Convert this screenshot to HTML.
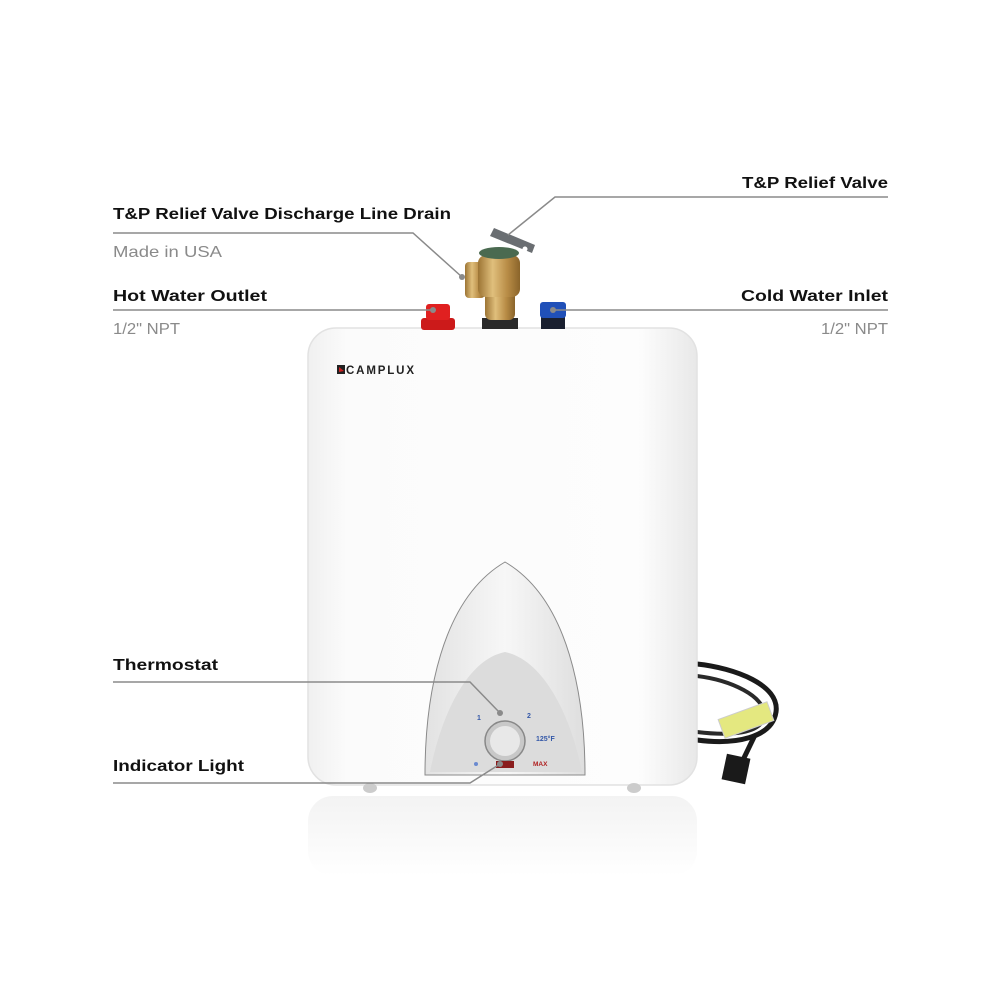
<!DOCTYPE html>
<html><head><style>
html,body{margin:0;padding:0;background:#fff;}
svg{display:block}
text{font-family:"Liberation Sans",sans-serif;}
</style></head><body>
<svg width="1000" height="1000" viewBox="0 0 1000 1000" xmlns="http://www.w3.org/2000/svg">
<defs>
<linearGradient id="tank" x1="0" y1="0" x2="1" y2="0">
<stop offset="0" stop-color="#f0f0f0"/><stop offset="0.1" stop-color="#fbfbfb"/><stop offset="0.85" stop-color="#fdfdfd"/><stop offset="1" stop-color="#e8e8e8"/></linearGradient>
<linearGradient id="brass" x1="0" y1="0" x2="1" y2="0">
<stop offset="0" stop-color="#9c7434"/><stop offset="0.35" stop-color="#e0bf7c"/><stop offset="0.7" stop-color="#b88c46"/><stop offset="1" stop-color="#8a642a"/></linearGradient>
<linearGradient id="panel" x1="0" y1="0" x2="1" y2="0">
<stop offset="0" stop-color="#e2e2e2"/><stop offset="0.5" stop-color="#f7f7f7"/><stop offset="1" stop-color="#dedede"/></linearGradient>
<linearGradient id="refl" x1="0" y1="0" x2="0" y2="1">
<stop offset="0" stop-color="#f3f3f3"/><stop offset="1" stop-color="#ffffff"/></linearGradient>
</defs>
<rect x="308" y="796" width="389" height="80" rx="25" fill="url(#refl)"/>
<!-- cord -->
<path d="M697 664 C735 668 780 685 776 712 C772 738 735 745 697 740" fill="none" stroke="#1a1a1a" stroke-width="5"/>
<path d="M697 676 C730 680 766 696 764 716 C762 734 730 736 697 732" fill="none" stroke="#2a2a2a" stroke-width="4"/>
<path d="M755 735 L742 762" stroke="#1a1a1a" stroke-width="5"/>
<rect x="724" y="756" width="24" height="26" fill="#1a1a1a" transform="rotate(12 736 769)"/>
<rect x="720" y="710" width="52" height="20" fill="#e4e880" stroke="#ccc" transform="rotate(-20 746 720)"/>
<!-- tank -->
<rect x="308" y="328" width="389" height="457" rx="28" fill="url(#tank)" stroke="#e2e2e2" stroke-width="1.5"/>
<ellipse cx="370" cy="788" rx="7" ry="5" fill="#ccc"/>
<ellipse cx="634" cy="788" rx="7" ry="5" fill="#ccc"/>
<rect x="337" y="365" width="8" height="9" fill="#222"/>
<path d="M339 367 L344 371 L339 372Z" fill="#c22"/>
<text x="346" y="374" font-size="11.5" font-weight="bold" fill="#222" textLength="68">CAMPLUX</text>
<!-- panel -->
<path d="M425 775 C425 700 440 600 505 562 C570 600 585 700 585 775 Z" fill="url(#panel)" stroke="#8a8a8a" stroke-width="1"/>
<path d="M430 772 C440 720 465 660 505 652 C545 660 572 720 582 772 Z" fill="#dcdcdc"/>
<text x="477" y="720" font-size="7" font-weight="bold" fill="#3458a8">1</text>
<text x="527" y="718" font-size="7" font-weight="bold" fill="#3458a8">2</text>
<text x="536" y="741" font-size="7" font-weight="bold" fill="#3458a8">125°F</text>
<text x="533" y="766" font-size="6.5" font-weight="bold" fill="#b02020">MAX</text>
<circle cx="476" cy="764" r="2" fill="#6a8ad0"/>
<circle cx="505" cy="741" r="20" fill="#c8c8c8" stroke="#888" stroke-width="1.5"/>
<circle cx="505" cy="741" r="15" fill="#e8e8e8"/>
<rect x="496" y="761" width="18" height="7" fill="#8a1c1c"/>
<!-- knobs -->
<rect x="421" y="318" width="34" height="12" rx="3" fill="#cc1a1a"/>
<rect x="426" y="304" width="24" height="16" rx="3" fill="#e02020"/>
<rect x="541" y="316" width="24" height="13" fill="#1a2030"/>
<rect x="540" y="302" width="26" height="16" rx="3" fill="#2050b8"/>
<!-- valve -->
<rect x="482" y="318" width="36" height="11" fill="#2a2a2a"/>
<rect x="485" y="290" width="30" height="30" rx="6" fill="url(#brass)"/>
<rect x="465" y="262" width="20" height="36" rx="4" fill="url(#brass)"/>
<rect x="478" y="255" width="42" height="42" rx="8" fill="url(#brass)"/>
<ellipse cx="499" cy="253" rx="20" ry="6" fill="#4a6a50"/>
<path d="M490 236 L494 228 L535 245 L532 253 Z" fill="#6a6e72"/>
<circle cx="525" cy="249" r="2.5" fill="#fff"/>
<g fill="none" stroke="#8a8a8a" stroke-width="1.5">
<path d="M113 233 H413 L462 277"/>
<path d="M888 197 H555 L508 235"/>
<path d="M113 310 H433"/>
<path d="M553 310 H888"/>
<path d="M113 682 H470 L500 713"/>
<path d="M113 783 H470 L500 764"/>
</g>
<g fill="#8a8a8a"><circle cx="462" cy="277" r="3"/><circle cx="433" cy="310" r="3"/><circle cx="553" cy="310" r="3"/><circle cx="500" cy="713" r="3"/><circle cx="500" cy="764" r="3"/></g>
<g font-size="16" font-weight="bold" fill="#111">
<text x="113" y="219" textLength="338" lengthAdjust="spacingAndGlyphs">T&amp;P Relief Valve Discharge Line Drain</text>
<text x="742" y="188" textLength="146" lengthAdjust="spacingAndGlyphs">T&amp;P Relief Valve</text>
<text x="113" y="301" textLength="154" lengthAdjust="spacingAndGlyphs">Hot Water Outlet</text>
<text x="741" y="301" textLength="147" lengthAdjust="spacingAndGlyphs">Cold Water Inlet</text>
<text x="113" y="670" textLength="105" lengthAdjust="spacingAndGlyphs">Thermostat</text>
<text x="113" y="771" textLength="131" lengthAdjust="spacingAndGlyphs">Indicator Light</text>
</g>
<g font-size="16" fill="#8a8a8a">
<text x="113" y="257" textLength="109" lengthAdjust="spacingAndGlyphs">Made in USA</text>
<text x="113" y="334" textLength="67" lengthAdjust="spacingAndGlyphs">1/2" NPT</text>
<text x="821" y="334" textLength="67" lengthAdjust="spacingAndGlyphs">1/2" NPT</text>
</g>
</svg>
</body></html>
